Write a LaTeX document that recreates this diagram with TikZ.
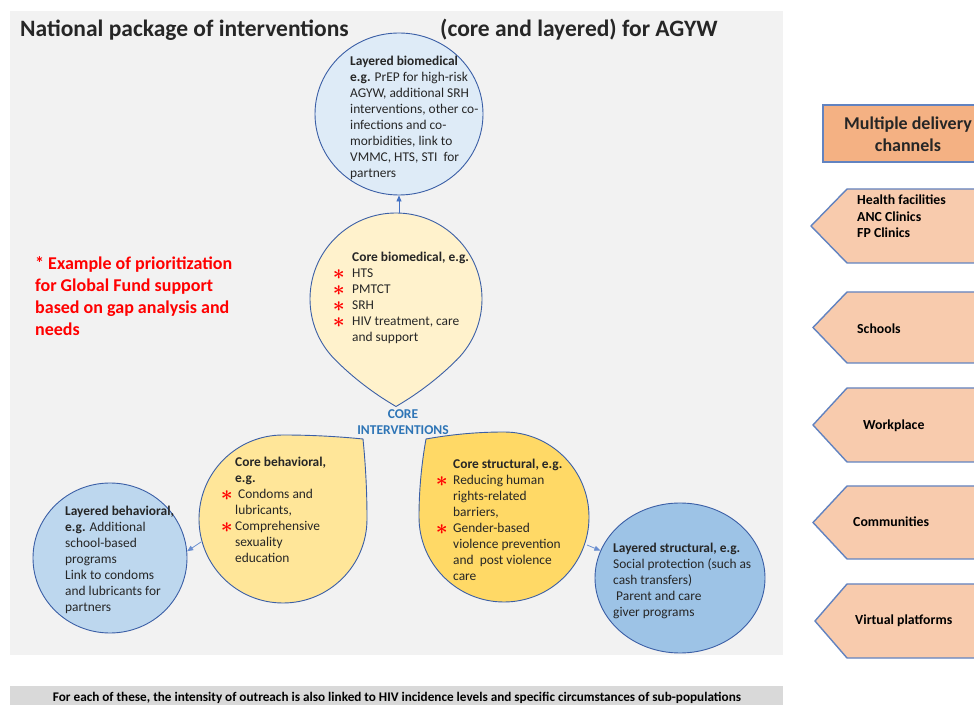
\documentclass[tikz,border=0pt]{standalone}
\usepackage{fontspec}
\setmainfont{Carlito}
\usetikzlibrary{shapes.geometric,arrows.meta}
\definecolor{panelgray}{HTML}{F2F2F2}
\definecolor{bargray}{HTML}{D9D9D9}
\definecolor{topfill}{HTML}{DEEBF7}
\definecolor{corefill}{HTML}{FFF2CC}
\definecolor{behfill}{HTML}{FFE699}
\definecolor{strfill}{HTML}{FFD966}
\definecolor{leftfill}{HTML}{BDD7EE}
\definecolor{rightfill}{HTML}{9DC3E6}
\definecolor{shapeline}{HTML}{3B5FA6}
\definecolor{arrowc}{HTML}{4472C4}
\definecolor{headfill}{HTML}{F4B183}
\definecolor{pentfill}{HTML}{F8CBAD}
\definecolor{pentline}{HTML}{6283C0}
\definecolor{txt}{HTML}{262626}
\definecolor{coreblue}{HTML}{2E75B6}
\definecolor{redtxt}{HTML}{FF0000}
\newcommand\tdrop[5]{%
  \begin{scope}[shift={#1}, rotate=#3]
    \draw[tdline, fill=#5] (0,#2)
      .. controls ({#4/3},#2) and ({2*#4/3},{#4+2*(#2-#4)/3}) .. (#4,#4)
      .. controls ({#4+2*(#2-#4)/3},{2*#4/3}) and (#2,{#4/3}) .. (#2,0)
      arc[start angle=0, end angle=-270, radius=#2] -- cycle;
  \end{scope}}
\newcommand\rstar[1]{\llap{\raisebox{-2pt}{\textcolor{redtxt}{\fontsize{22}{22}\selectfont\boldmath$\ast$}}\hspace{#1}}}
\begin{document}
\begin{tikzpicture}[x=1pt,y=1pt,
  tdline/.style={draw=shapeline, line width=0.9pt},
  body/.style={font=\fontsize{13.4}{16}\selectfont, align=left, inner sep=0pt, anchor=north west, text=txt},
  pentbody/.style={font=\bfseries\fontsize{13.8}{16.5}\selectfont, align=left, inner sep=0pt, anchor=west, text=black},
  conn/.style={draw=arrowc, line width=0.8pt, -{Triangle[length=6pt,width=5pt]}},
  pent/.style={draw=pentline, line width=1.4pt, fill=pentfill},
  layer/.style={ellipse, draw=shapeline, line width=0.9pt, inner sep=0pt}
]
\clip (0,0) rectangle (974,704);
\fill[white] (0,0) rectangle (974,704);
% panels
\fill[panelgray] (10,49) rectangle (783,693);
\fill[bargray] (10,-5) rectangle (783,18);
\node[font=\bfseries\fontsize{13.2}{14}\selectfont, inner sep=0pt] (bartext) at (397,6) {For each of these, the intensity of outreach is also linked to HIV incidence levels and specific circumstances of sub-populations};
% title
\node[font=\bfseries\fontsize{23.5}{26}\selectfont, anchor=west, inner sep=0pt, text=txt] (title1) at (20,674) {National package of interventions};
\node[font=\bfseries\fontsize{23.5}{26}\selectfont, anchor=west, inner sep=0pt, text=txt] (title2) at (440,674) {(core and layered) for AGYW};
% layered ellipses
\node[layer, fill=topfill, minimum width=168pt, minimum height=162pt] (topC) at (399,590) {};
\node[layer, fill=leftfill, minimum width=154pt, minimum height=150pt] (leftC) at (110,146) {};
\node[layer, fill=rightfill, minimum width=170pt, minimum height=150pt] (rightC) at (680,126) {};
% teardrops
\tdrop{(396,405)}{86}{-135}{76}{corefill}
\tdrop{(283,185)}{84}{0}{80}{behfill}
\tdrop{(504,187)}{85}{90}{78}{strfill}
\coordinate (coreTop) at (399,491);
\coordinate (behLeft) at (201,162);
\coordinate (strRight) at (587,159);
% connectors
\draw[conn] (coreTop) -- (topC.south);
\draw[conn, draw=arrowc!80] (behLeft) -- (leftC.5);
\draw[conn, draw=arrowc!80] (strRight) -- (rightC.161);
% texts
\node[body] (topT) at (350,648) {\textbf{Layered biomedical}\\\textbf{e.g.} PrEP for high-risk\\AGYW, additional SRH\\interventions, other co-\\infections and co-\\morbidities, link to\\VMMC, HTS, STI\ \ for\\partners};
\node[body] (coreT) at (352,452) {\textbf{Core biomedical, e.g.}\\\rstar{7.5pt}HTS\\\rstar{7.5pt}PMTCT\\\rstar{7.5pt}SRH\\\rstar{7.5pt}HIV treatment, care\\and support};
\node[body] (behT) at (235,247) {\textbf{Core behavioral,}\\\textbf{e.g.}\\\rstar{2.5pt}\hspace{3pt}Condoms and\\lubricants,\\\rstar{2.5pt}Comprehensive\\sexuality\\education};
\node[body] (strT) at (453,245) {\textbf{Core structural, e.g.}\\\rstar{5.5pt}Reducing human\\rights-related\\barriers,\\\rstar{5.5pt}Gender-based\\violence prevention\\and\ \ post violence\\care};
\node[body] (leftT) at (65,198) {\textbf{Layered behavioral,}\\\textbf{e.g.} Additional\\school-based\\programs\\Link to condoms\\and lubricants for\\partners};
\node[body] (rightT) at (613,161) {\textbf{Layered structural, e.g.}\\Social protection (such as\\cash transfers)\\\hspace{3pt}Parent and care\\giver programs};
\node[font=\bfseries\fontsize{13.5}{16}\selectfont, align=center, text=coreblue, inner sep=0pt] (coreI) at (403,281.5) {CORE\\INTERVENTIONS};
\node[font=\bfseries\fontsize{18}{22.3}\selectfont, align=left, anchor=north west, inner sep=0pt, text=redtxt] (prio) at (35,448) {* Example of prioritization\\for Global Fund support\\based on gap analysis and\\needs};
% right panel
\draw[draw=pentline, line width=1.4pt, fill=headfill] (823,542) rectangle (1000,599);
\node[font=\bfseries\fontsize{18}{22.5}\selectfont, align=center, inner sep=0pt, text=txt] (headT) at (908,570) {Multiple delivery\\channels};
\draw[pent] (847,515) -- (1000,515) -- (1000,441) -- (847,441) -- (811,478) -- cycle;
\draw[pent] (847,412) -- (1000,412) -- (1000,341) -- (847,341) -- (813,376.5) -- cycle;
\draw[pent] (847,316) -- (1000,316) -- (1000,242) -- (847,242) -- (813,279) -- cycle;
\draw[pent] (847,218) -- (1000,218) -- (1000,145) -- (847,145) -- (813,181.5) -- cycle;
\draw[pent] (847,120) -- (1000,120) -- (1000,46) -- (847,46) -- (815,83) -- cycle;
\node[pentbody] (p1) at (857,487.5) {Health facilities\\ANC Clinics\\FP Clinics};
\node[pentbody] (p2) at (857,375) {Schools};
\node[pentbody] (p3) at (863,278) {Workplace};
\node[pentbody] (p4) at (853,182) {Communities};
\node[pentbody] (p5) at (855,83) {Virtual platforms};
\end{tikzpicture}
\end{document}
